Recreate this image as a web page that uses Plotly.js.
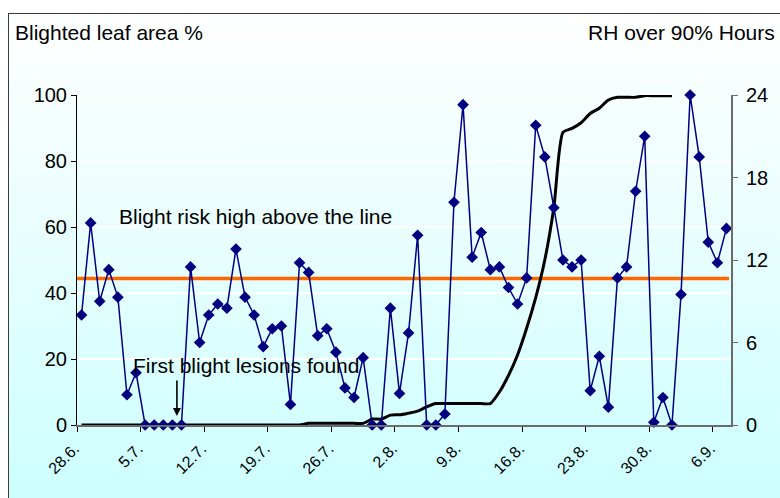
<!DOCTYPE html>
<html>
<head>
<meta charset="utf-8">
<script src="https://cdn.plot.ly/plotly-3.0.1.min.js"></script>
<style>
  html, body { margin: 0; padding: 0; background: #ffffff; }
  #wrap { position: relative; width: 780px; height: 498px; overflow: hidden; }
  #frame { position: absolute; left: 8px; top: 13px; width: 800px; height: 520px;
           border: 1.5px solid #3a3a3a;
           background: linear-gradient(to bottom, #ffffff 0%, #eefefe 33%, #c9ffff 100%); }
  #chart { position: absolute; left: 0; top: 0; width: 780px; height: 498px; }
</style>
</head>
<body>
<div id="wrap">
  <div id="frame"></div>
  <div id="chart"></div>
</div>
<script>
// Dates (categories)
const days = [
  "28.6.","29.6.","30.6.",
  "1.7.","2.7.","3.7.","4.7.","5.7.","6.7.","7.7.","8.7.","9.7.","10.7.",
  "11.7.","12.7.","13.7.","14.7.","15.7.","16.7.","17.7.","18.7.","19.7.","20.7.",
  "21.7.","22.7.","23.7.","24.7.","25.7.","26.7.","27.7.","28.7.","29.7.","30.7.","31.7.",
  "1.8.","2.8.","3.8.","4.8.","5.8.","6.8.","7.8.","8.8.","9.8.","10.8.",
  "11.8.","12.8.","13.8.","14.8.","15.8.","16.8.","17.8.","18.8.","19.8.","20.8.",
  "21.8.","22.8.","23.8.","24.8.","25.8.","26.8.","27.8.","28.8.","29.8.","30.8.","31.8.",
  "1.9.","2.9.","3.9.","4.9.","5.9.","6.9.","7.9."
];

// RH over 90 % hours per day (right axis)
const rhHours = [
  8.0, 14.7, 9.0, 11.3, 9.3, 2.2, 3.8, 0, 0, 0,
  0, 0, 11.5, 6.0, 8.0, 8.8, 8.5, 12.8, 9.3, 8.0,
  5.7, 7.0, 7.2, 1.5, 11.8, 11.1, 6.5, 7.0, 5.3, 2.7,
  2.0, 4.9, 0, 0, 8.5, 2.3, 6.7, 13.8, 0, 0,
  0.8, 16.2, 23.3, 12.2, 14.0, 11.3, 11.5, 10.0, 8.8, 10.7,
  21.8, 19.5, 15.8, 12.0, 11.5, 12.0, 2.5, 5.0, 1.3, 10.7,
  11.5, 17.0, 21.0, 0.2, 2.0, 0, 9.5, 24.0, 19.5, 13.3,
  11.8, 14.3
];

// Blighted leaf area % (left axis)
const blighted = [
  0, 0, 0, 0, 0, 0, 0, 0, 0, 0,
  0, 0, 0, 0, 0, 0, 0, 0, 0, 0,
  0, 0, 0, 0, 0, 0.5, 0.5, 0.5, 0.5, 0.5,
  0.5, 0.5, 1.8, 1.8, 3.0, 3.1, 3.6, 4.2, 5.5, 6.5,
  6.5, 6.5, 6.5, 6.5, 6.5, 6.5, 10.0, 15.0, 21.2, 29.3,
  38.6, 50.0, 66.0, 88.7, 89.9, 91.6, 94.4, 96.0, 98.5, 99.3,
  99.3, 99.3, 99.8, 99.8, 99.8, 99.8, null, null, null, null,
  null, null
];

const riskThreshold = 44.4;   // blighted-leaf-area axis units
const labelEvery = 7;
const leftTicks = [0, 20, 40, 60, 80, 100];
const rightTicks = [0, 6, 12, 18, 24];

const idx = days.map((d, i) => i);
const tickIdx = idx.filter(i => i % labelEvery === 0);
const tickText = tickIdx.map(i => days[i]);
const boundaryTicks = tickIdx.map(i => i - 0.5);

const font = "Liberation Sans, Arial, sans-serif";

const traces = [
  {
    x: idx, y: blighted, yaxis: 'y', type: 'scatter', mode: 'lines',
    line: { color: '#000000', width: 3, shape: 'spline', smoothing: 0.6 },
    connectgaps: false, hoverinfo: 'skip', cliponaxis: false
  },
  {
    x: idx, y: rhHours, yaxis: 'y2', type: 'scatter', mode: 'lines+markers',
    line: { color: '#000080', width: 1.5 },
    marker: { symbol: 'diamond', size: 9, color: '#000080' },
    cliponaxis: false
  }
];

const layout = {
  width: 780, height: 498,
  margin: { l: 77, r: 49, t: 95, b: 73, pad: 0 },
  paper_bgcolor: 'rgba(0,0,0,0)',
  plot_bgcolor: 'rgba(0,0,0,0)',
  showlegend: false,
  font: { family: font, size: 19, color: '#000000' },
  xaxis: {
    range: [-0.5, days.length - 0.5],
    tickmode: 'array', tickvals: tickIdx, ticktext: tickText,
    tickangle: -45, ticks: '', showgrid: false, zeroline: false,
    tickfont: { size: 16, family: font, color: '#000' },
    ticklabelshift: -7, ticklabelstandoff: 6,
    showline: true, linecolor: '#6b6b6b', linewidth: 2,
    minor: { tickmode: 'array', tickvals: boundaryTicks, ticks: 'outside',
             ticklen: 5, tickwidth: 1, tickcolor: '#000', showgrid: false }
  },
  yaxis: {
    range: [0, 100], tickmode: 'array', tickvals: leftTicks,
    ticks: 'outside', ticklen: 5, tickcolor: '#000',
    showline: true, linecolor: '#000', linewidth: 1,
    showgrid: true, gridcolor: '#ffffff', gridwidth: 1.2,
    zeroline: false, tickfont: { size: 20, family: font, color: '#000' }
  },
  yaxis2: {
    range: [0, 24], overlaying: 'y', side: 'right',
    tickmode: 'array', tickvals: rightTicks,
    ticks: 'outside', ticklen: 5, tickcolor: '#6b6b6b',
    showline: true, linecolor: '#6b6b6b', linewidth: 2,
    showgrid: false, zeroline: false, ticklabelstandoff: 4,
    tickfont: { size: 20, family: font, color: '#000' }
  },
  shapes: [
    { type: 'line', xref: 'paper', yref: 'y', x0: 0, x1: 0.997,
      y0: riskThreshold, y1: riskThreshold,
      line: { color: '#FF6600', width: 3.5 }, layer: 'below' }
  ],
  annotations: [
    { xref: 'paper', yref: 'paper', x: -0.098, y: 1.19, xanchor: 'left', yanchor: 'middle',
      text: 'Blighted leaf area %', showarrow: false, font: { size: 21, family: font } },
    { xref: 'paper', yref: 'paper', x: 1.0705, y: 1.19, xanchor: 'right', yanchor: 'middle',
      text: 'RH over 90% Hours', showarrow: false, font: { size: 21, family: font } },
    { xref: 'x', yref: 'y', x: 19.1, y: 63.3, xanchor: 'center', yanchor: 'middle',
      text: 'Blight risk high above the line', showarrow: false, font: { size: 21, family: font } },
    { xref: 'x', yref: 'y', x: 18.1, y: 18.1, xanchor: 'center', yanchor: 'middle',
      text: 'First blight lesions found', showarrow: false, font: { size: 21, family: font } },
    { xref: 'x', yref: 'y', x: 10.5, y: 2.7, ax: 0, ay: -37, text: '',
      showarrow: true, arrowhead: 2, arrowsize: 1, arrowwidth: 1.6, arrowcolor: '#000' }
  ]
};

Plotly.newPlot('chart', traces, layout, { staticPlot: true, displayModeBar: false });
</script>
</body>
</html>
